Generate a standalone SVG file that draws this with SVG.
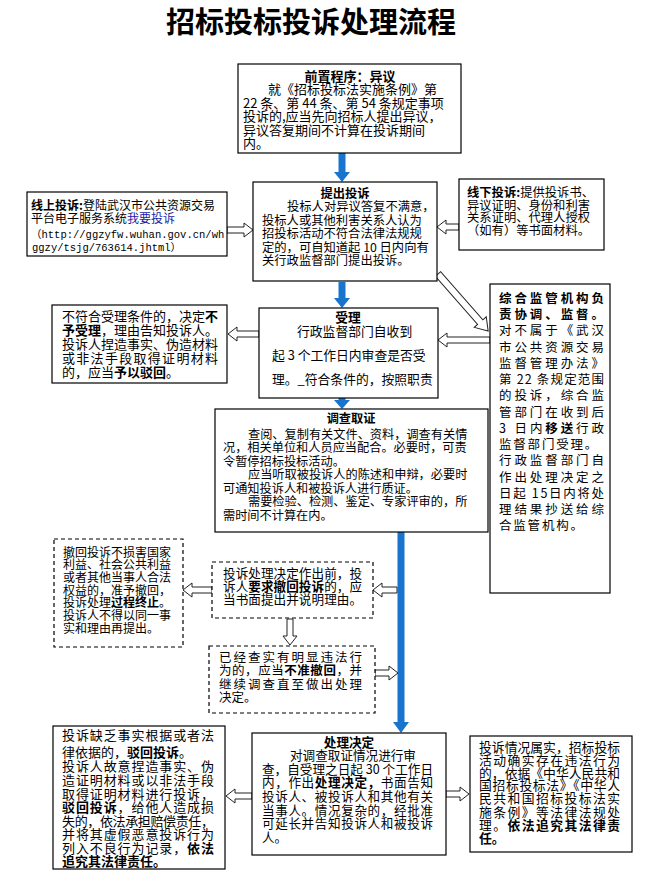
<svg xmlns="http://www.w3.org/2000/svg" width="662" height="876" viewBox="0 0 662 876">
<style>
text{font-family:"Noto Sans CJK SC","Noto Sans",sans-serif;fill:#000;}
.b{font-weight:bold;}
.box{fill:#fff;stroke:#000;stroke-width:1.2;}
.dash{fill:#fff;stroke:#000;stroke-width:1.2;stroke-dasharray:4 3;}
.ha{fill:#fff;stroke:#222;stroke-width:1;}
.bl{stroke:#1874CD;stroke-width:7;fill:none;}
.bh{fill:#1874CD;}
.mid{text-anchor:middle;}
.mono{font-family:"Liberation Mono","Noto Sans CJK SC",monospace;}
</style>
<rect width="662" height="876" fill="#fff"/>
<text x="311" y="33" class="b mid" font-size="29">招标投标投诉处理流程</text>

<g id="connectors">
  <line class="bl" x1="342" y1="153" x2="342" y2="173"/><polygon class="bh" points="334,172 350,172 342,182"/>
  <line class="bl" x1="342" y1="282" x2="342" y2="299"/><polygon class="bh" points="334,298 350,298 342,308"/>
  <line class="bl" x1="342" y1="398" x2="342" y2="401"/><polygon class="bh" points="334,400 350,400 342,409"/>
  <line class="bl" x1="401" y1="532" x2="401" y2="723"/><polygon class="bh" points="393,722 409,722 401,733"/>
  <path class="ha" d="M253,230 L244,223 L244,227 L227,227 L227,233 L244,233 L244,237 Z"/>
  <path class="ha" d="M437,227 L446,220 L446,224 L459,224 L459,230 L446,230 L446,234 Z"/>
  <path class="ha" d="M228,334 L237,327 L237,331 L259,331 L259,337 L237,337 L237,341 Z"/>
  <path class="ha" d="M438,340 L447,333 L447,337 L490,337 L490,343 L447,343 L447,347 Z"/>
  <path class="ha" transform="translate(438,274) rotate(48.7)" d="M76,0 L64,-8 L64,-3.5 L0,-3.5 L0,3.5 L64,3.5 L64,8 Z"/>
  <path class="ha" d="M183,590 L192,583 L192,587 L212,587 L212,593 L192,593 L192,597 Z"/>
  <path class="ha" d="M373,590 L382,583 L382,587 L397,587 L397,593 L382,593 L382,597 Z"/>
  <path class="ha" d="M398,673 L389,666 L389,670 L375,670 L375,676 L389,676 L389,680 Z"/>
  <path class="ha" d="M290,645 L283,636 L287,636 L287,619 L293,619 L293,636 L297,636 Z"/>
  <path class="ha" d="M226,796 L235,789 L235,793 L252,793 L252,799 L235,799 L235,803 Z"/>
  <path class="ha" d="M469,794 L460,787 L460,791 L446,791 L446,797 L460,797 L460,801 Z"/>
</g>

<g id="pre">
  <rect class="box" x="238" y="64" width="223" height="89"/>
  <g font-size="13">
    <text x="350" y="81" class="b mid">前置程序：异议</text>
    <text x="268" y="94">就《招标投标法实施条例》第</text>
    <text x="243" y="107.5">22 条、第 44 条、第 54 条规定事项</text>
    <text x="243" y="121">投诉的,应当先向招标人提出异议，</text>
    <text x="243" y="134.5">异议答复期间不计算在投诉期间</text>
    <text x="243" y="148">内。</text>
  </g>
</g>

<g id="submit">
  <rect class="box" x="253" y="182" width="184" height="99"/>
  <g font-size="12.3">
    <text x="345" y="198" class="b mid">提出投诉</text>
    <text x="287" y="211">投标人对异议答复不满意，</text>
    <text x="262" y="224.5">投标人或其他利害关系人认为</text>
    <text x="262" y="238">招投标活动不符合法律法规规</text>
    <text x="262" y="251.5">定的，可自知道起 10 日内向有</text>
    <text x="262" y="265">关行政监督部门提出投诉。</text>
  </g>
</g>

<g id="online">
  <rect class="box" x="27" y="192" width="200" height="64"/>
  <g font-size="12">
    <text x="31" y="210"><tspan class="b">线上投诉:</tspan>登陆武汉市公共资源交易</text>
    <text x="31" y="223">平台电子服务系统<tspan fill="#1a1aa6">我要投诉</tspan></text>
    <text x="31" y="238" class="mono" font-size="10.5">（http://ggzyfw.wuhan.gov.cn/wh</text>
    <text x="32" y="251" class="mono" font-size="10.5">ggzy/tsjg/763614.jhtml）</text>
  </g>
</g>

<g id="offline">
  <rect class="box" x="459" y="179" width="145" height="71"/>
  <g font-size="12.3">
    <text x="467" y="197"><tspan class="b">线下投诉:</tspan>提供投诉书、</text>
    <text x="467" y="209.5">异议证明、身份和利害</text>
    <text x="467" y="222">关系证明、代理人授权</text>
    <text x="467" y="234.5">（如有）等书面材料。</text>
  </g>
</g>

<g id="accept">
  <rect class="box" x="259" y="308" width="179" height="90"/>
  <g font-size="12.8">
    <text x="348" y="322" class="b mid">受理</text>
    <text x="297" y="336">行政监督部门自收到</text>
    <text x="272" y="360">起 3 个工作日内审查是否受</text>
    <text x="272" y="384">理。_符合条件的，按照职责</text>
  </g>
</g>

<g id="reject">
  <rect class="box" x="52" y="305" width="175" height="78"/>
  <g font-size="13">
    <text x="62" y="321">不符合受理条件的，决定<tspan class="b">不</tspan></text>
    <text x="62" y="335"><tspan class="b">予受理</tspan>，理由告知投诉人。</text>
    <text x="62" y="349">投诉人捏造事实、伪造材料</text>
    <text x="62" y="363" textLength="156" lengthAdjust="spacing">或非法手段取得证明材料</text>
    <text x="62" y="377">的，应当<tspan class="b">予以驳回</tspan>。</text>
  </g>
</g>

<g id="supervise">
  <rect class="box" x="490" y="284" width="120" height="309"/>
  <g font-size="12.5">
    <text x="499" y="302.8" class="b" textLength="105" lengthAdjust="spacing">综合监管机构负</text>
    <text x="499" y="319" class="b" textLength="105" lengthAdjust="spacing">责协调、监督。</text>
    <text x="499" y="335.3" textLength="105" lengthAdjust="spacing">对不属于《武汉</text>
    <text x="499" y="351.5" textLength="105" lengthAdjust="spacing">市公共资源交易</text>
    <text x="499" y="367.8" textLength="105" lengthAdjust="spacing">监督管理办法》</text>
    <text x="499" y="384" textLength="105" lengthAdjust="spacing">第 22 条规定范围</text>
    <text x="499" y="400.3" textLength="105" lengthAdjust="spacing">的投诉，综合监</text>
    <text x="499" y="416.5" textLength="105" lengthAdjust="spacing">管部门在收到后</text>
    <text x="499" y="432.8" textLength="105" lengthAdjust="spacing">3 日内<tspan class="b">移送</tspan>行政</text>
    <text x="499" y="449" letter-spacing="1.8">监督部门受理。</text>
    <text x="499" y="465.3" textLength="105" lengthAdjust="spacing">行政监督部门自</text>
    <text x="499" y="481.5" textLength="105" lengthAdjust="spacing">作出处理决定之</text>
    <text x="499" y="497.8" textLength="105" lengthAdjust="spacing">日起 15日内将处</text>
    <text x="499" y="514" textLength="105" lengthAdjust="spacing">理结果抄送给综</text>
    <text x="499" y="530.3" letter-spacing="1.8">合监管机构。</text>
  </g>
</g>

<g id="investigate">
  <rect class="box" x="215" y="409" width="273" height="123"/>
  <g font-size="12.2">
    <text x="351" y="423" class="b mid">调查取证</text>
    <text x="248" y="438.6">查阅、复制有关文件、资料，调查有关情</text>
    <text x="223" y="452.1">况，相关单位和人员应当配合。必要时，可责</text>
    <text x="223" y="465.6">令暂停招标投标活动。</text>
    <text x="248" y="479.1">应当听取被投诉人的陈述和申辩，必要时</text>
    <text x="223" y="492.6">可通知投诉人和被投诉人进行质证。</text>
    <text x="248" y="506.1">需要检验、检测、鉴定、专家评审的，所</text>
    <text x="223" y="519.6">需时间不计算在内。</text>
  </g>
</g>

<g id="withdraw-ok">
  <rect class="dash" x="54" y="539" width="129" height="108"/>
  <g font-size="12">
    <text x="63" y="556.6">撤回投诉不损害国家</text>
    <text x="63" y="569.3">利益、社会公共利益</text>
    <text x="63" y="582">或者其他当事人合法</text>
    <text x="63" y="594.7">权益的，准予撤回，</text>
    <text x="63" y="607.4">投诉处理<tspan class="b">过程终止</tspan>。</text>
    <text x="63" y="620.1">投诉人不得以同一事</text>
    <text x="63" y="632.8">实和理由再提出。</text>
  </g>
</g>

<g id="withdraw-request">
  <rect class="dash" x="212" y="562" width="161" height="56"/>
  <g font-size="12.6">
    <text x="223" y="578" textLength="139" lengthAdjust="spacing">投诉处理决定作出前，投</text>
    <text x="223" y="591" textLength="139" lengthAdjust="spacing">诉人<tspan class="b">要求撤回投诉</tspan>的，应</text>
    <text x="223" y="604" textLength="139" lengthAdjust="spacing">当书面提出并说明理由。</text>
  </g>
</g>

<g id="withdraw-deny">
  <rect class="dash" x="209" y="646" width="166" height="67"/>
  <g font-size="12.5">
    <text x="219" y="661.8" textLength="143" lengthAdjust="spacing">已经查实有明显违法行</text>
    <text x="219" y="675.3" textLength="143" lengthAdjust="spacing">为的，应当<tspan class="b">不准撤回</tspan>，并</text>
    <text x="219" y="688.8" textLength="143" lengthAdjust="spacing">继续调查直至做出处理</text>
    <text x="219" y="702.3">决定。</text>
  </g>
</g>

<g id="decision">
  <rect class="box" x="252" y="733" width="194" height="122"/>
  <g font-size="12.6">
    <text x="349" y="746.8" class="b mid">处理决定</text>
    <text x="290" y="759.8">对调查取证情况进行审</text>
    <text x="262" y="773.5" textLength="171" lengthAdjust="spacing">查，自受理之日起 30 个工作日</text>
    <text x="262" y="787.1" textLength="171" lengthAdjust="spacing">内，作出<tspan class="b">处理决定，</tspan>书面告知</text>
    <text x="262" y="800.8" textLength="171" lengthAdjust="spacing">投诉人、被投诉人和其他有关</text>
    <text x="262" y="814.5" textLength="171" lengthAdjust="spacing">当事人。情况复杂的，经批准</text>
    <text x="262" y="828.1" textLength="171" lengthAdjust="spacing">可延长并告知投诉人和被投诉</text>
    <text x="262" y="841.8">人。</text>
  </g>
</g>

<g id="dismiss">
  <rect class="box" x="53" y="726" width="172" height="143"/>
  <g font-size="13">
    <text x="62" y="740.1" textLength="152" lengthAdjust="spacing">投诉缺乏事实根据或者法</text>
    <text x="62" y="757.1">律依据的，<tspan class="b">驳回投诉</tspan>。</text>
    <text x="62" y="771.1" textLength="152" lengthAdjust="spacing">投诉人故意捏造事实、伪</text>
    <text x="62" y="785.1" textLength="152" lengthAdjust="spacing">造证明材料或以非法手段</text>
    <text x="62" y="798.6" textLength="152" lengthAdjust="spacing">取得证明材料进行投诉，</text>
    <text x="62" y="812.1" textLength="152" lengthAdjust="spacing"><tspan class="b">驳回投诉</tspan>，给他人造成损</text>
    <text x="62" y="825.6" textLength="152" lengthAdjust="spacing">失的，依法承担赔偿责任，</text>
    <text x="62" y="839.1" textLength="152" lengthAdjust="spacing">并将其虚假恶意投诉行为</text>
    <text x="62" y="852.6" textLength="152" lengthAdjust="spacing">列入不良行为记录，<tspan class="b">依法</tspan></text>
    <text x="62" y="866.1" class="b">追究其法律责任。</text>
  </g>
</g>

<g id="violation">
  <rect class="box" x="470" y="736" width="162" height="116"/>
  <g font-size="12.8">
    <text x="479" y="751.9" textLength="141" lengthAdjust="spacing">投诉情况属实，招标投标</text>
    <text x="479" y="764.9" textLength="141" lengthAdjust="spacing">活动确实存在违法行为</text>
    <text x="479" y="777.9" textLength="141" lengthAdjust="spacing">的，依据《中华人民共和</text>
    <text x="479" y="790.4" textLength="141" lengthAdjust="spacing">国招标投标法》《中华人</text>
    <text x="479" y="803.4" textLength="141" lengthAdjust="spacing">民共和国招标投标法实</text>
    <text x="479" y="816.9" textLength="141" lengthAdjust="spacing">施条例》等法律法规处</text>
    <text x="479" y="829.9" textLength="141" lengthAdjust="spacing">理。<tspan class="b">依法追究其法律责</tspan></text>
    <text x="479" y="842.9" class="b">任。</text>
  </g>
</g>
</svg>
